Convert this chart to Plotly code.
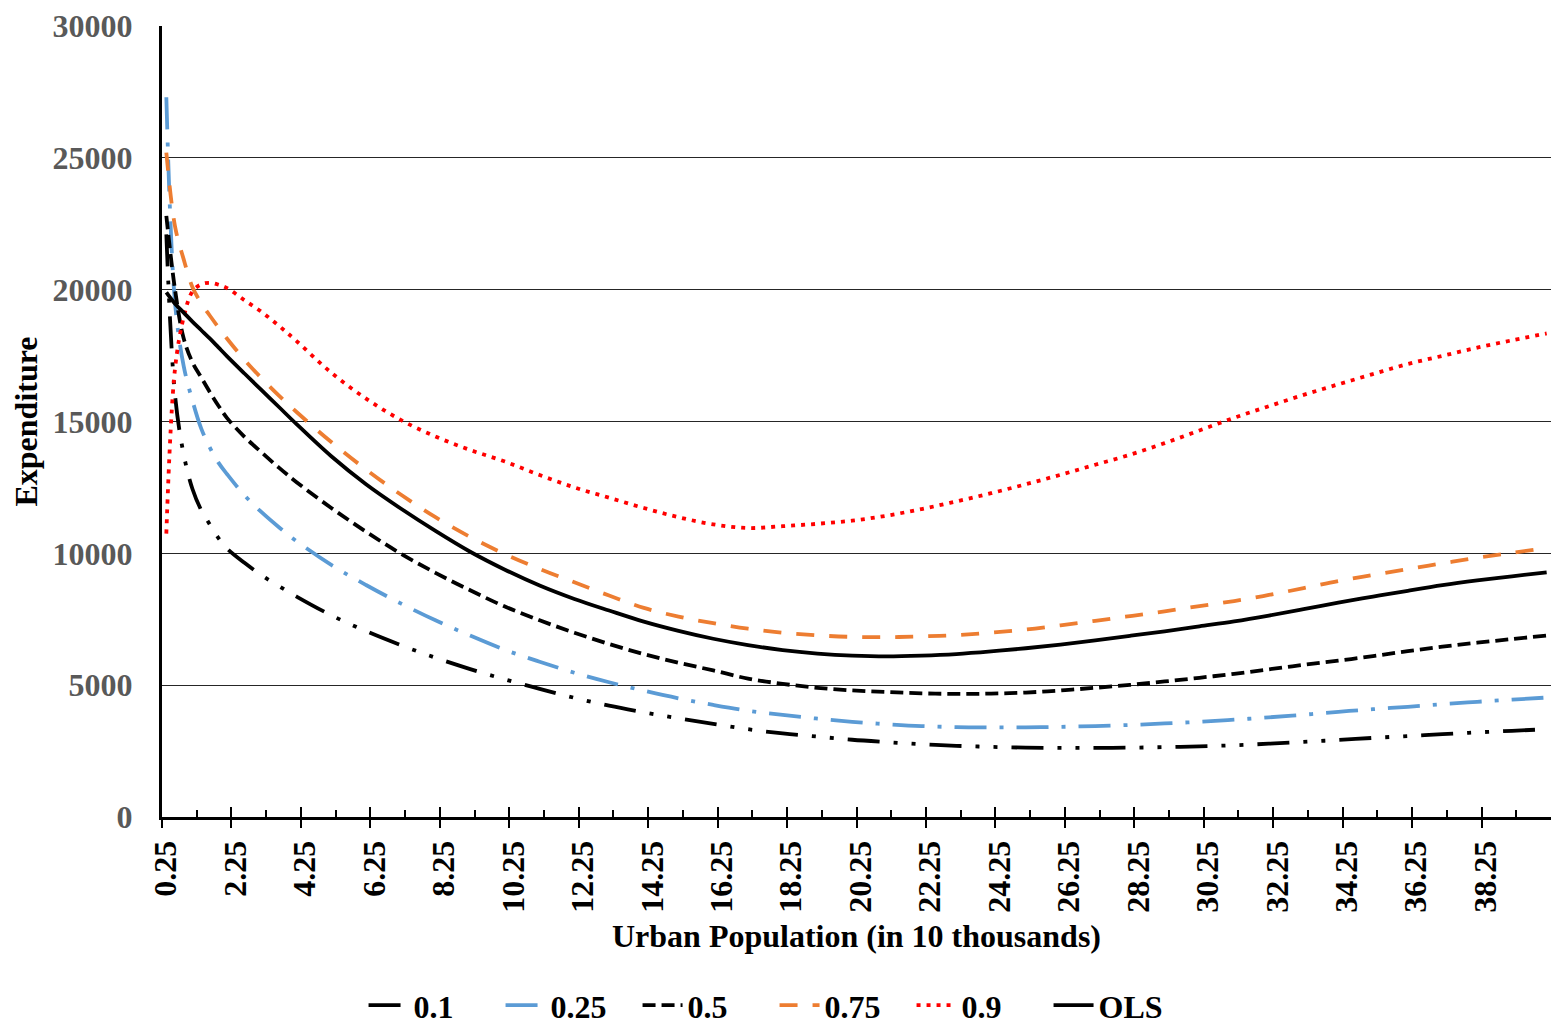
import plotly.graph_objects as go

# Urban population (in 10 thousands) at which each fitted curve is sampled
pop = [0.25, 0.5, 0.75, 1.0, 1.25, 1.5, 1.75, 2.0, 2.5, 3.0, 3.5, 4.0,
       5, 6, 7, 8, 9, 10, 11, 12, 13, 14, 15, 16, 17, 18, 19, 20,
       21, 22, 23, 24, 25, 26, 27, 28, 29, 30, 31, 32, 33, 34, 35, 36,
       37, 38, 39, 40]

q10 = [22100, 16000, 13750, 12450, 11650, 11100, 10580, 10180, 9640, 9160, 8750, 8360,
       7650, 7050, 6520, 6040, 5610, 5220, 4860, 4520, 4220, 3970, 3740, 3530, 3330, 3170, 3050, 2930,
       2840, 2760, 2700, 2660, 2630, 2620, 2620, 2630, 2650, 2680, 2720, 2780, 2850, 2920, 3000, 3070,
       3140, 3210, 3270, 3330]

q25 = [27300, 19500, 17100, 15800, 14750, 14020, 13440, 13000, 12200, 11550, 10980, 10460,
       9560, 8800, 8100, 7460, 6880, 6340, 5890, 5470, 5110, 4790, 4500, 4250, 4030, 3870, 3730, 3610,
       3520, 3450, 3410, 3400, 3400, 3420, 3450, 3490, 3550, 3610, 3690, 3780, 3880, 3990, 4090, 4180,
       4280, 4370, 4450, 4530]

q50 = [22800, 20000, 18150, 17250, 16680, 16120, 15600, 15130, 14420, 13820, 13240, 12700,
       11720, 10820, 9990, 9260, 8600, 7980, 7460, 6990, 6560, 6180, 5850, 5560, 5250, 5050, 4900, 4800,
       4740, 4690, 4670, 4680, 4720, 4800, 4900, 5010, 5140, 5280, 5430, 5600, 5770, 5930, 6100, 6290,
       6460, 6610, 6750, 6880]

q75 = [25200, 22400, 21150, 20100, 19500, 19020, 18570, 18140, 17340, 16630, 15970, 15360,
       14220, 13180, 12230, 11370, 10620, 9970, 9410, 8900, 8400, 7930, 7600, 7350, 7140, 6990, 6890, 6830,
       6820, 6850, 6900, 6990, 7110, 7270, 7440, 7620, 7800, 8000, 8190, 8420, 8680, 8950, 9180, 9400,
       9620, 9830, 10020, 10200]

q90 = [10750, 17000, 18950, 19930, 20200, 20260, 20190, 20060, 19600, 19150, 18620, 18050,
       16850, 15870, 15060, 14430, 13920, 13480, 12970, 12500, 12110, 11720, 11370, 11100, 10960, 11030, 11120, 11240,
       11430, 11680, 11970, 12280, 12620, 12980, 13360, 13740, 14180, 14660, 15140, 15580, 16010, 16410, 16800, 17180,
       17490, 17800, 18080, 18340]

ols = [19900, 19470, 19130, 18790, 18470, 18150, 17810, 17470, 16820, 16180, 15540, 14900,
       13680, 12620, 11700, 10850, 10060, 9380, 8780, 8270, 7830, 7410, 7060, 6760, 6520, 6330, 6200, 6120,
       6090, 6120, 6180, 6280, 6400, 6540, 6700, 6870, 7040, 7230, 7420, 7640, 7880, 8130, 8360, 8580,
       8790, 8970, 9130, 9280]

tick_labels = ["0.25", "2.25", "4.25", "6.25", "8.25", "10.25", "12.25", "14.25", "16.25", "18.25",
               "20.25", "22.25", "24.25", "26.25", "28.25", "30.25", "32.25", "34.25", "36.25", "38.25"]
y_ticks = [0, 5000, 10000, 15000, 20000, 25000, 30000]

STEP = 0.25          # category width of the population grid
HALF = STEP / 2
x_range = [pop[0] - HALF, pop[-1] + HALF]
major_pos = [float(t) - HALF for t in tick_labels]
minor_pos = [p + 1.0 for p in major_pos]

FONT = "Liberation Serif"
BLUE, ORANGE, RED = "#5B9BD5", "#ED7D31", "#FF0000"
LW = 3.8

series = [
    ("0.1", q10, "black", "32px,14px,4px,14px,4px,14px"),
    ("0.25", q25, BLUE, "32px,13px,4px,13px"),
    ("0.5", q50, "black", "13px,6px"),
    ("0.75", q75, ORANGE, "18px,15px"),
    ("0.9", q90, RED, "4px,6px"),
    ("OLS", ols, "black", "solid"),
]

fig = go.Figure()
for name, vals, color, dash in series:
    fig.add_trace(go.Scatter(
        x=pop, y=vals, name=name, mode="lines",
        line=dict(color=color, width=LW, dash=dash, shape="spline", smoothing=1.0),
        hoverinfo="skip",
    ))

# overlay axis carrying the inner half of the crossing major tick marks
fig.add_trace(go.Scatter(x=[None], y=[None], xaxis="x2", showlegend=False,
                         hoverinfo="skip", mode="lines"))

fig.update_layout(
    width=1551, height=1024,
    margin=dict(l=162, r=0, t=26, b=207, autoexpand=False),
    paper_bgcolor="white", plot_bgcolor="white",
    font=dict(family=FONT, size=32, color="black", weight="bold"),
    xaxis=dict(
        range=x_range, tickmode="array", tickvals=major_pos, ticktext=tick_labels,
        ticks="outside", ticklen=8, tickwidth=2, tickcolor="black",
        ticklabelshift=4, ticklabelstandoff=0, tickangle=-90,
        tickfont=dict(family=FONT, size=32, color="black", weight="bold"),
        showline=True, linewidth=3, linecolor="black",
        showgrid=False, zeroline=False,
        minor=dict(tickmode="array", tickvals=minor_pos, ticks="inside",
                   ticklen=7, tickwidth=2, tickcolor="black", showgrid=False),
        title=dict(text="Urban Population (in 10 thousands)", standoff=13,
                   font=dict(family=FONT, size=32, color="black", weight="bold")),
    ),
    xaxis2=dict(
        range=x_range, overlaying="x", anchor="y", side="bottom",
        tickmode="array", tickvals=major_pos, ticks="inside", ticklen=10,
        tickwidth=2, tickcolor="black", showticklabels=False,
        showline=False, showgrid=False, zeroline=False,
    ),
    yaxis=dict(
        range=[0, 30000], tickmode="array", tickvals=y_ticks,
        ticktext=[str(v) for v in y_ticks],
        tickfont=dict(family=FONT, size=32, color="#595959", weight="bold"),
        ticks="", ticklabelstandoff=20,
        showline=True, linewidth=3, linecolor="black",
        showgrid=True, gridcolor="#262626", gridwidth=1.4, zeroline=False,
        title=dict(text="Expenditure", standoff=6,
                   font=dict(family=FONT, size=32, color="black", weight="bold")),
    ),
    legend=dict(
        orientation="h", xref="paper", yref="paper",
        x=0.441, xanchor="center", y=-0.238, yanchor="middle",
        font=dict(family=FONT, size=32, color="black", weight="bold"),
        itemwidth=40, entrywidth=82, entrywidthmode="pixels",
        traceorder="normal",
    ),
    showlegend=True,
)

fig.write_html("out.html")
